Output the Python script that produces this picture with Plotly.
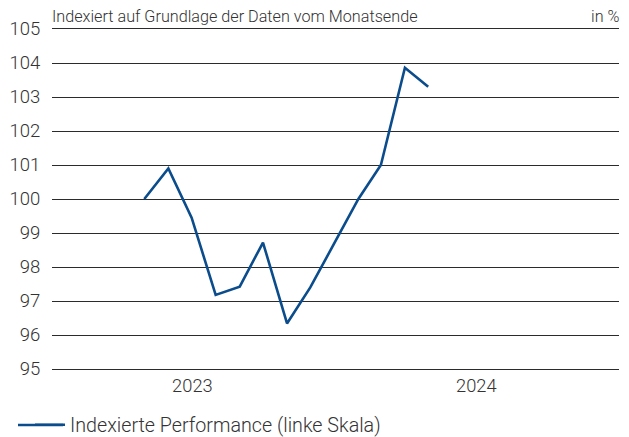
import plotly.graph_objects as go

dates = ["2023-04-30", "2023-05-31", "2023-06-30", "2023-07-31", "2023-08-31",
         "2023-09-30", "2023-10-31", "2023-11-30", "2023-12-31", "2024-01-31",
         "2024-02-29", "2024-03-31", "2024-04-30"]
performance = [100.0, 100.9, 99.45, 97.18, 97.42, 98.72, 96.34, 97.4, 98.7, 100.0,
               101.0, 103.86, 103.3]
year_ticks = ["2023-07-01", "2024-07-01"]
year_labels = ["2023", "2024"]
y_ticks = list(range(95, 106))

W, H = 629, 437
L, R, T, B = 52, 10, 29, 68
PW, PH = W - L - R, H - T - B
FONT = "Roboto"
TXT = "#333333"
BLUE = "#0b4c8c"
LEG_Y = 425


def px_x(x):
    return (x - L) / PW


def px_y(y):
    return (H - B - y) / PH


fig = go.Figure()
fig.add_trace(go.Scatter(
    x=dates, y=performance, mode="lines",
    name="Indexierte Performance (linke Skala)",
    line=dict(color=BLUE, width=2.6),
))

fig.update_layout(
    width=W, height=H,
    margin=dict(l=L, r=R, t=T, b=B, autoexpand=False),
    paper_bgcolor="white", plot_bgcolor="white",
    font=dict(family=FONT, color=TXT, size=17, weight=300),
    showlegend=True,
    legend=dict(
        orientation="h", xref="container", yref="container",
        x=30 / W, xanchor="left",
        y=(H - LEG_Y) / H, yanchor="middle",
        font=dict(size=19.7, color=TXT, weight=300),
        bgcolor="rgba(0,0,0,0)",
    ),
    xaxis=dict(
        type="date", range=["2023-01-01", "2025-01-01"],
        tickvals=year_ticks, ticktext=year_labels,
        showgrid=False, zeroline=False,
        showline=True, mirror=True, linecolor="#2b2b2b", linewidth=1,
        ticks="outside", ticklen=0, tickcolor="rgba(0,0,0,0)",
        tickfont=dict(size=18.3, color=TXT, weight=300),
        automargin=False,
    ),
    yaxis=dict(
        range=[95, 105], tickvals=y_ticks,
        showgrid=True, gridcolor="#2b2b2b", gridwidth=1,
        zeroline=False, showline=False,
        ticks="outside", ticklen=7, tickcolor="rgba(0,0,0,0)",
        tickfont=dict(size=18.5, color=TXT, weight=300),
        automargin=False,
    ),
    shapes=[
        dict(type="line", xref="paper", yref="paper",
             x0=px_x(18), x1=px_x(63), y0=px_y(LEG_Y), y1=px_y(LEG_Y),
             line=dict(color=BLUE, width=2.6), layer="below"),
    ],
    annotations=[
        dict(text="Indexiert auf Grundlage der Daten vom Monatsende",
             xref="paper", yref="paper", x=0, y=1, xanchor="left", yanchor="bottom",
             xshift=-2, yshift=1, showarrow=False, font=dict(size=16.2, color=TXT, weight=300)),
        dict(text="in %",
             xref="paper", yref="paper", x=1, y=1, xanchor="right", yanchor="bottom",
             xshift=2, yshift=1, showarrow=False, font=dict(size=16.2, color=TXT, weight=300)),
    ],
)

fig.write_html("out.html", config={"displayModeBar": False},
               post_script="document.body.style.margin='0';")
